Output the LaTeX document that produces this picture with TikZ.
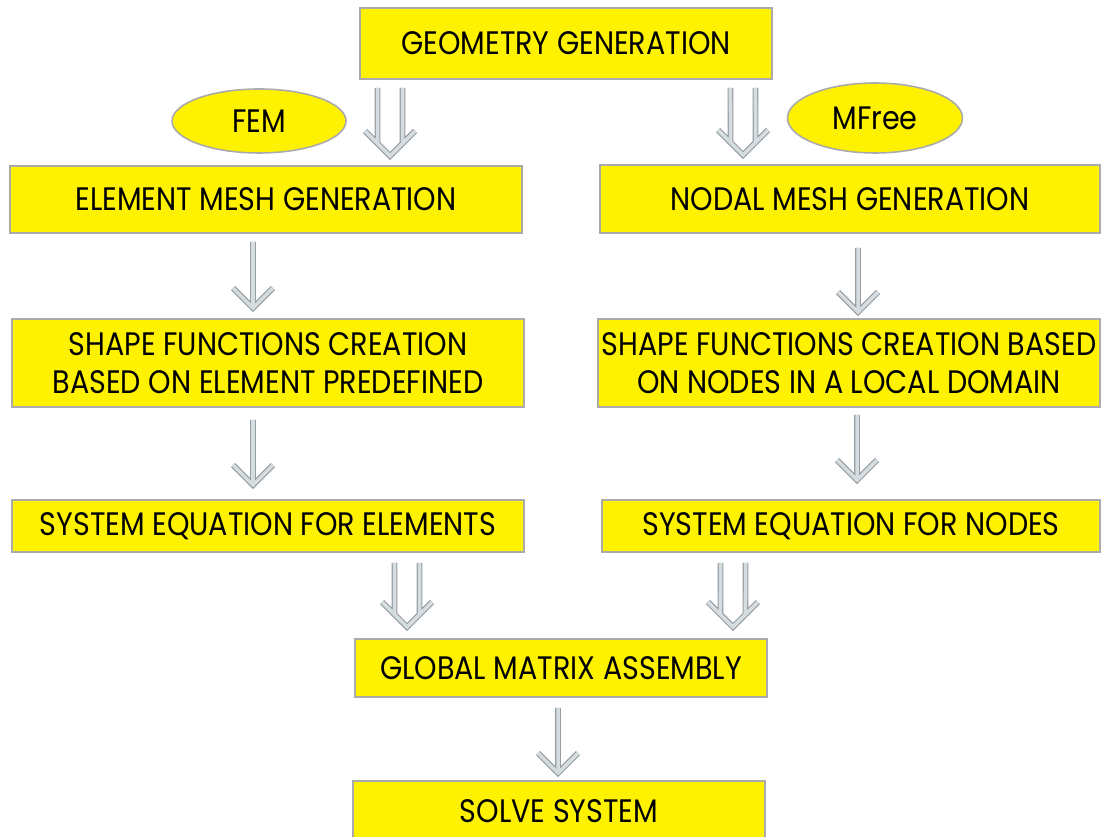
\documentclass[tikz,border=0pt]{standalone}
\usepackage{fontspec}
\setmainfont{Poppins}[FakeStretch=0.88]
\usetikzlibrary{calc,shapes.geometric}
\definecolor{boxfill}{RGB}{255,242,0}
\definecolor{boxline}{RGB}{170,170,170}
\definecolor{arrowline}{RGB}{150,158,163}
\definecolor{arrowfill}{RGB}{214,221,225}
\tikzstyle{stage}=[rectangle, draw=boxline, fill=boxfill, line width=0.9pt, inner sep=0pt, outer sep=0pt, align=center, font=\fontsize{18.5}{21.5}\selectfont]
\tikzstyle{method}=[ellipse, draw=boxline, fill=boxfill, line width=0.9pt, inner sep=0pt, outer sep=0pt, font=\fontsize{18.5}{21.5}\selectfont]
\tikzstyle{onearrow}=[draw=arrowline, double=arrowfill, line width=0.65pt, double distance=2pt, line join=miter,
    to path={(\tikztostart) -- (\tikztotarget) ++(-20,-20) -- (\tikztotarget) -- ++(20,-20)}]
\tikzstyle{twoarrow}=[draw=arrowline, double=arrowfill, line width=0.65pt, double distance=2pt, line join=miter,
    to path={($(\tikztostart)+(-12.5,0)$) -- ($(\tikztotarget)+(-12.5,-12.5)$)
             ($(\tikztostart)+(12.5,0)$) -- ($(\tikztotarget)+(12.5,-12.5)$)
             ($(\tikztotarget)+(-25,-25)$) -- (\tikztotarget) -- ++(25,-25)}]

\begin{document}
\begin{tikzpicture}[x=0.02cm, y=-0.02cm]
            \useasboundingbox (0,0) rectangle (1105,837);

            \node[stage, minimum width=8.24cm, minimum height=1.42cm] (geo) at (566,43.5) {GEOMETRY GENERATION};
            \node[method, minimum width=3.48cm, minimum height=1.28cm] (fem) at (259,121) {FEM};
            \node[method, minimum width=3.5cm, minimum height=1.4cm] (mfree) at (875,118) {MFree};

            \node[stage, minimum width=10.24cm, minimum height=1.34cm] (elmesh) at (266,199.5) {ELEMENT MESH GENERATION};
            \node[stage, minimum width=10cm, minimum height=1.36cm] (nodmesh) at (850,199) {NODAL MESH GENERATION};

            \node[stage, minimum width=10.24cm, minimum height=1.76cm] (elshape) at (268,363)
                {SHAPE FUNCTIONS CREATION\\BASED ON ELEMENT PREDEFINED};
            \node[stage, minimum width=10.04cm, minimum height=1.76cm] (nodshape) at (849,363)
                {SHAPE FUNCTIONS CREATION BASED\\ON NODES IN A LOCAL DOMAIN};

            \node[stage, minimum width=10.24cm, minimum height=1.04cm] (elsys) at (268,526) {SYSTEM EQUATION FOR ELEMENTS};
            \node[stage, minimum width=9.96cm, minimum height=1.04cm] (nodsys) at (851,526) {SYSTEM EQUATION FOR NODES};

            \node[stage, minimum width=8.24cm, minimum height=1.16cm] (global) at (561,668) {GLOBAL MATRIX ASSEMBLY};
            \node[stage, minimum width=8.24cm, minimum height=1.2cm] (solve) at (559,811) {SOLVE SYSTEM};

            \draw[twoarrow] ($(geo.south west)+(30,9)$) to ($(elmesh.north west)+(380,-10)$);
            \draw[twoarrow] ($(geo.south east)+(-29,9)$) to ($(nodmesh.north west)+(143,-10)$);

            \draw[onearrow] ($(elmesh.south)+(-13,9)$) to ($(elshape.north)+(-15,-11)$);
            \draw[onearrow] ($(nodmesh.south)+(8,15)$) to ($(nodshape.north)+(9,-7)$);
            \draw[onearrow] ($(elshape.south)+(-15,13)$) to ($(elsys.north)+(-15,-15)$);
            \draw[onearrow] ($(nodshape.south)+(8,8)$) to ($(nodsys.north)+(6,-20)$);

            \draw[twoarrow] ($(elsys.south)+(139,11)$) to ($(global.north west)+(52,-12)$);
            \draw[twoarrow] ($(nodsys.south west)+(131,11)$) to ($(global.north east)+(-34,-12)$);

            \draw[onearrow] ($(global.south)+(-3,11)$) to ($(solve.north)+(-1,-8)$);
\end{tikzpicture}
\end{document}
